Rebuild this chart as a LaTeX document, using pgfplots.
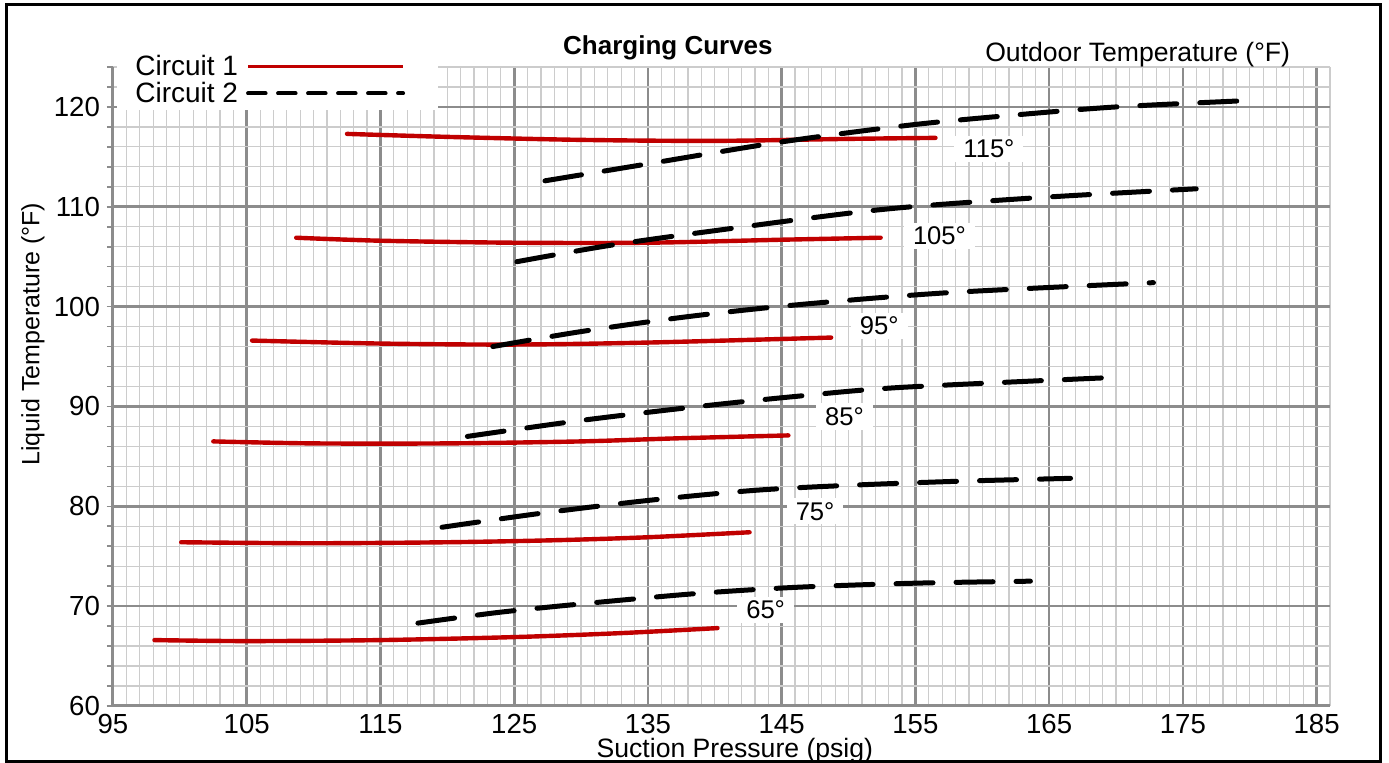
\documentclass[border=0pt]{standalone}
\usepackage{fontspec}
\setmainfont{Liberation Sans}
\usepackage{pgfplots}
\pgfplotsset{compat=1.18}
\definecolor{c1red}{RGB}{192,0,0}
\definecolor{majgray}{RGB}{140,140,140}
\definecolor{mingray}{RGB}{204,204,204}
\begin{document}
\begin{tikzpicture}
\useasboundingbox (0,0) rectangle (694.5pt,381.5pt);
\draw[line width=1.5pt] (3.25pt,0.75pt) rectangle (690pt,379pt);
\begin{axis}[
  at={(56.5pt,28.5pt)}, anchor=south west,
  scale only axis, width=608.5pt, height=319.5pt,
  xmin=95, xmax=186, ymin=60, ymax=124,
  xtick={95,105,...,185}, ytick={60,70,...,120},
  minor xtick={95,...,186}, minor ytick={60,62,...,124},
  grid=both,
  major grid style={majgray, line width=1.3pt},
  minor grid style={mingray, line width=0.6pt},
  axis lines*=left,
  axis line style={majgray, line width=1.5pt, -},
  xtick style={draw=none},
  ytick style={majgray, line width=0.8pt},
  tick align=outside,
  major tick length=3pt, minor tick length=3pt,
  ticklabel style={font=\fontsize{13.8}{16}\selectfont},
  xticklabel style={yshift=2.5pt},
  /pgf/number format/assume math mode=true,
  clip=false,
  legend plot pos=right,
  legend image code/.code={\draw[#1] (0pt,0pt) -- (77.5pt,0pt); \path[draw=none, fill=none, dash pattern=on 0pt off 100pt] (-3pt,-1pt) rectangle (88pt,1pt);},
  legend style={at={(rel axis cs:0.0033,1.027)}, anchor=north west,
    draw=none, fill=white, font=\fontsize{14}{16}\selectfont,
    nodes={inner xsep=2pt, inner ysep=0.9pt}, row sep=0pt, inner xsep=7pt, inner ysep=1.5pt},
  legend cell align=left,
  red/.style={c1red, line width=2.2pt, line cap=round, smooth},
  blk/.style={black, line width=2.5pt, line cap=round, dash pattern=on 18.5pt off 11.5pt, smooth},
]
\addlegendimage{c1red, line width=1.5pt}
\addlegendentry{Circuit 1}
\addlegendimage{black, line width=2pt, line cap=round, dash pattern=on 8.75pt off 6.25pt}
\addlegendentry{Circuit 2}

% Circuit 1 (red)
\addplot[red, forget plot] coordinates {(112.5,117.3) (120,117.0) (130,116.7) (140,116.6) (150,116.8) (156.5,116.9)};
\addplot[red, forget plot] coordinates {(108.7,106.9) (115,106.6) (125,106.4) (135,106.4) (145,106.7) (152.4,106.9)};
\addplot[red, forget plot] coordinates {(105.4,96.6) (115,96.3) (125,96.2) (135,96.4) (148.7,96.9)};
\addplot[red, forget plot] coordinates {(102.5,86.5) (110,86.3) (120,86.3) (130,86.5) (137,86.8) (145.5,87.1)};
\addplot[red, forget plot] coordinates {(100.1,76.4) (110,76.3) (120,76.4) (128,76.6) (135,76.9) (142.6,77.4)};
\addplot[red, forget plot] coordinates {(98.1,66.6) (105,66.5) (115,66.6) (125,66.9) (133,67.3) (140.2,67.8)};

% Circuit 2 (black dashed)
\addplot[blk, forget plot] coordinates {(127.3,112.6) (135,114.3) (145,116.5) (154.7,118.2) (162.5,119.2) (170,120.0) (179.2,120.6)};
\addplot[blk, forget plot] coordinates {(125.2,104.5) (132,106.1) (139.4,107.5) (152.3,109.7) (164,110.9) (176,111.8)};
\addplot[blk, forget plot] coordinates {(123.4,96.0) (130,97.5) (138,99.0) (146.3,100.2) (157.5,101.4) (172.8,102.4)};
\addplot[blk, forget plot] coordinates {(121.5,87.0) (130,88.6) (138.8,90.0) (146,91.0) (153.8,91.9) (169.7,92.9)};
\addplot[blk, forget plot] coordinates {(119.6,77.9) (127,79.3) (135.1,80.6) (143,81.6) (150,82.1) (158,82.5) (166.6,82.8)};
\addplot[blk, forget plot] coordinates {(117.8,68.3) (124,69.4) (131.4,70.4) (139,71.3) (146.3,71.9) (155,72.3) (163.6,72.5)};

% temperature labels
\begin{scope}[every node/.style={fill=white, inner xsep=4.5pt, inner ysep=2pt, font=\fontsize{12.8}{14}\selectfont}]
\node at (axis cs:160.5,115.8) {115°};
\node at (axis cs:156.8,107.1) {105°};
\node at (axis cs:152.3,98.1) {95°};
\node at (axis cs:149.7,89.0) {85°};
\node at (axis cs:147.5,79.5) {75°};
\node at (axis cs:143.8,69.6) {65°};
\end{scope}

\node[font=\bfseries\fontsize{13}{15}\selectfont] at (rel axis cs:0.456,1.030) {Charging Curves};
\node[font=\fontsize{13.3}{15}\selectfont] at (rel axis cs:0.842,1.019) {Outdoor Temperature (°F)};
\node[font=\fontsize{13.3}{15}\selectfont] at (rel axis cs:0.511,-0.070) {Suction Pressure (psig)};
\node[font=\fontsize{12.5}{15}\selectfont, rotate=90] at (rel axis cs:-0.0657,0.582) {Liquid Temperature (°F)};
\end{axis}
\end{tikzpicture}
\end{document}
